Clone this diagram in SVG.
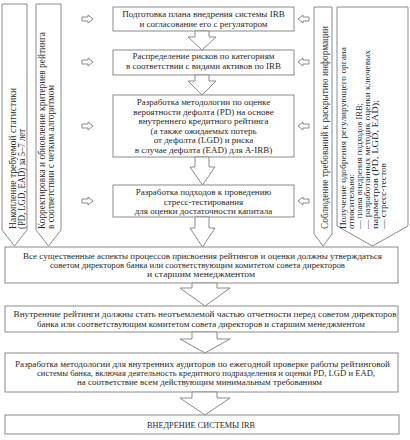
<svg xmlns="http://www.w3.org/2000/svg" width="410" height="440" viewBox="0 0 410 440">
<style>
.box{fill:#fff;stroke:#8a8a8a;stroke-width:1}
.arr{fill:#fff;stroke:#8a8a8a;stroke-width:1;stroke-linejoin:miter}
.t{font-family:"Liberation Serif","DejaVu Serif",serif;font-size:9px;fill:#2a2a2a;text-anchor:middle}
.v{font-family:"Liberation Serif","DejaVu Serif",serif;font-size:10px;fill:#2a2a2a;text-anchor:start}
.v2{font-family:"Liberation Serif","DejaVu Serif",serif;font-size:9px;fill:#2a2a2a;text-anchor:start}
</style>
<rect width="410" height="440" fill="#fff"/>
<g id="col1">
<polygon class="box" points="2,4 27,4 27,230 14.5,246 2,230"/>
<text class="v" transform="translate(16,229) rotate(-90)" textLength="141" lengthAdjust="spacingAndGlyphs">Накопление требуемой статистики</text>
<text class="v" transform="translate(24.5,229) rotate(-90)" textLength="100" lengthAdjust="spacingAndGlyphs">(PD, LGD, EAD) за 5–7 лет</text>
</g>
<g id="col2">
<polygon class="box" points="36,4 61,4 61,230 48.5,246 36,230"/>
<text class="v" transform="translate(45,229) rotate(-90)" textLength="197" lengthAdjust="spacingAndGlyphs">Корректировка и обновление критериев рейтинга</text>
<text class="v" transform="translate(54,229) rotate(-90)" textLength="144" lengthAdjust="spacingAndGlyphs">в соответствии с четким алгоритмом</text>
</g>
<g id="col3">
<polygon class="box" points="314,7 332,7 332,234 323,246 314,234"/>
<text class="v" transform="translate(328,229) rotate(-90)" textLength="203" lengthAdjust="spacingAndGlyphs">Соблюдение требований к раскрытию информации</text>
</g>
<g id="col4">
<polygon class="box" points="337,7 408,7 408,226 372.5,246 337,226"/>
<text class="v2" transform="translate(346,229) rotate(-90)" textLength="182" lengthAdjust="spacingAndGlyphs">Получение одобрения регулирующего органа</text>
<text class="v2" transform="translate(354,229) rotate(-90)" textLength="55" lengthAdjust="spacingAndGlyphs">относительно:</text>
<text class="v2" transform="translate(362,229) rotate(-90)" textLength="126" lengthAdjust="spacingAndGlyphs">— плана внедрения подходов IRB;</text>
<text class="v2" transform="translate(370,229) rotate(-90)" textLength="179" lengthAdjust="spacingAndGlyphs">— разработанных методик оценки ключевых</text>
<text class="v2" transform="translate(378,229) rotate(-90)" textLength="129" lengthAdjust="spacingAndGlyphs">параметров (PD, LGD, EAD);</text>
<text class="v2" transform="translate(386,229) rotate(-90)" textLength="66" lengthAdjust="spacingAndGlyphs">— стресс-тестов</text>
</g>
<g id="box1">
<rect class="box" x="113" y="7" width="181" height="24"/>
<text class="t" x="203.5" y="17">Подготовка плана внедрения системы IRB</text>
<text class="t" x="203.5" y="26.5">и согласование его с регулятором</text>
</g>
<g id="box2">
<rect class="box" x="113" y="50" width="181" height="25"/>
<text class="t" x="203.5" y="59">Распределение рисков по категориям</text>
<text class="t" x="203.5" y="68.5">в соответствии с видами активов по IRB</text>
</g>
<g id="box3">
<rect class="box" x="113" y="95" width="181" height="62"/>
<text class="t" x="203.5" y="105">Разработка методологии по оценке</text>
<text class="t" x="203.5" y="114.5">вероятности дефолта (PD) на основе</text>
<text class="t" x="203.5" y="124">внутреннего кредитного рейтинга</text>
<text class="t" x="203.5" y="133.5">(а также ожидаемых потерь</text>
<text class="t" x="203.5" y="143">от дефолта (LGD) и риска</text>
<text class="t" x="203.5" y="152.5">в случае дефолта (EAD) для A-IRB)</text>
</g>
<g id="box4">
<rect class="box" x="113" y="185" width="181" height="32"/>
<text class="t" x="203.5" y="195">Разработка подходов к проведению</text>
<text class="t" x="203.5" y="204.5">стресс-тестирования</text>
<text class="t" x="203.5" y="214">для оценки достаточности капитала</text>
</g>
<g id="boxA">
<rect class="box" x="5" y="247" width="393" height="36"/>
<text class="t" x="202.5" y="259" textLength="359" lengthAdjust="spacingAndGlyphs">Все существенные аспекты процессов присвоения рейтингов и оценки должны утверждаться</text>
<text class="t" x="197.5" y="268" textLength="295" lengthAdjust="spacingAndGlyphs">советом директоров банка или соответствующим комитетом совета директоров</text>
<text class="t" x="201" y="277" textLength="108" lengthAdjust="spacingAndGlyphs">и старшим менеджментом</text>
</g>
<g id="boxB">
<rect class="box" x="5" y="306" width="393" height="26"/>
<text class="t" x="205" y="317" textLength="383" lengthAdjust="spacingAndGlyphs">Внутренние рейтинги должны стать неотъемлемой частью отчетности перед советом директоров</text>
<text class="t" x="201" y="327" textLength="328" lengthAdjust="spacingAndGlyphs">банка или соответствующим комитетом совета директоров и старшим менеджментом</text>
</g>
<g id="boxC">
<rect class="box" x="5" y="353" width="393" height="39"/>
<text class="t" x="202.5" y="367" textLength="375" lengthAdjust="spacingAndGlyphs">Разработка методологии для внутренних аудиторов по ежегодной проверке работы рейтинговой</text>
<text class="t" x="206" y="376" textLength="338" lengthAdjust="spacingAndGlyphs">системы банка, включая деятельность кредитного подразделения и оценки PD, LGD и EAD,</text>
<text class="t" x="199.5" y="385" textLength="245" lengthAdjust="spacingAndGlyphs">на соответствие всем действующим минимальным требованиям</text>
</g>
<g id="boxD">
<rect class="box" x="5" y="415" width="394" height="19"/>
<text class="t" x="201" y="428" textLength="108" lengthAdjust="spacingAndGlyphs">ВНЕДРЕНИЕ СИСТЕМЫ IRB</text>
</g>
<g id="connectors">
<polygon class="arr" points="195,31 209,31 209,37 216,37 202,50 188,37 195,37"/>
<polygon class="arr" points="195,75 209,75 209,81 216,81 202,95 188,81 195,81"/>
<polygon class="arr" points="195,157 209,157 209,167 215,167 202.5,185 190,167 195,167"/>
<polygon class="arr" points="195,217 209,217 209,228 215,228 202.5,247 190,228 195,228"/>
<polygon class="arr" points="192,283 217,283 217,288 230,288 205,306 180,288 192,288"/>
<polygon class="arr" points="192,332 217,332 217,339 230,339 205,353 180,339 192,339"/>
<polygon class="arr" points="192,392 217,392 217,398 230,398 205,415 180,398 192,398"/>
<polygon class="arr" points="82,17 88,17 88,15 93,19 88,23 88,21 82,21"/>
<polygon class="arr" points="82,60 88,60 88,58 93,62 88,66 88,64 82,64"/>
<polygon class="arr" points="82,124 88,124 88,122 93,126 88,130 88,128 82,128"/>
<polygon class="arr" points="82,199 88,199 88,197 93,201 88,205 88,203 82,203"/>
<polygon class="arr" points="309,17 303,17 303,15 298,19 303,23 303,21 309,21"/>
<polygon class="arr" points="309,60 303,60 303,58 298,62 303,66 303,64 309,64"/>
<polygon class="arr" points="309,124 303,124 303,122 298,126 303,130 303,128 309,128"/>
<polygon class="arr" points="309,199 303,199 303,197 298,201 303,205 303,203 309,203"/>
</g>
</svg>
